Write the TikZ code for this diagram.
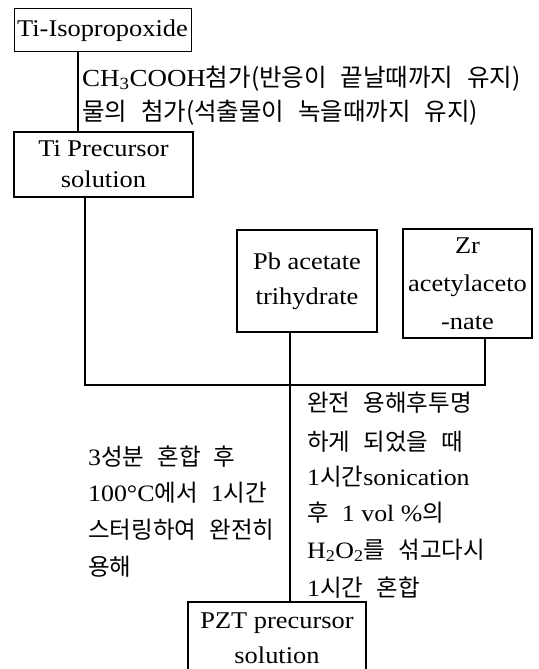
\documentclass[tikz,border=0pt]{standalone}
\usepackage{fontspec}
\setmainfont{Liberation Serif}[FakeStretch=1.1]
\newfontfamily\kr{Noto Sans CJK KR}[WordSpace=2.5]
\newcommand\lt[1]{{\rmfamily #1}}
\tikzset{
  thinbox/.style={draw, line width=1pt, inner sep=0pt, align=center, font=\fontsize{24}{28}\selectfont},
  box/.style={draw, line width=2.4pt, inner sep=0pt, align=center},
  link/.style={line width=2.4pt},
  lbl/.style={anchor=base west, inner sep=0pt, font=\kr\fontsize{23.5}{26}\selectfont},
  toplbl/.style={lbl, font=\kr\fontsize{24.5}{28}\selectfont}
}
\begin{document}
\begin{tikzpicture}[x=1pt,y=-1pt]
\useasboundingbox (0,0) rectangle (538,669);
% boxes
\node[thinbox, minimum width=177pt, minimum height=43pt] (tiiso) at (102.5,30.5) {Ti-Isopropoxide};
\node[box, minimum width=179pt, minimum height=65pt, font=\fontsize{24}{31}\selectfont] (tiprec) at (103.5,164.5) {Ti Precursor\\solution};
\node[box, minimum width=140pt, minimum height=102pt, font=\fontsize{24}{35}\selectfont] (pb) at (307,281) {Pb acetate\\trihydrate};
\node[box, minimum width=129pt, minimum height=109pt, font=\fontsize{24}{38}\selectfont] (zr) at (467.5,283.5) {Zr\\acetylaceto\\-nate};
\node[box, minimum width=178pt, minimum height=72pt, font=\fontsize{24}{35}\selectfont] (pzt) at (277,638) {PZT precursor\\solution};
% connector coordinates
\coordinate (xa) at (78,0);
\coordinate (xb) at (85,0);
\coordinate (xz) at (485,0);
\coordinate (j) at (290,385);
\draw[link] (xa |- tiiso.south) -- (xa |- tiprec.north);
\draw[link] (xb |- tiprec.south) -- (xb |- j) -- (xz |- j) -- (xz |- zr.south);
\draw[link] (j |- pb.south) -- (j) -- (j |- pzt.north);
% labels
\node[toplbl] (t1) at (82,86) {\lt{CH\textsubscript{3}COOH}첨가(반응이 끝날때까지 유지)};
\node[toplbl] (t2) at (82,120) {물의 첨가(석출물이 녹을때까지 유지)};
\node[lbl] (l1) at (88,465) {\lt{3}성분 혼합 후};
\node[lbl] (l2) at (88,501) {\lt{100°C}에서 \lt{1}시간};
\node[lbl] (l3) at (88,538) {스터링하여 완전히};
\node[lbl] (l4) at (88,575) {용해};
\node[lbl] (r1) at (307,411) {완전 용해후투명};
\node[lbl] (r2) at (307,450) {하게 되었을 때};
\node[lbl] (r3) at (307,485) {\lt{1}시간\lt{sonication}};
\node[lbl] (r4) at (307,521) {후 \lt{1 vol \%}의};
\node[lbl] (r5) at (307,558) {\lt{H\textsubscript{2}O\textsubscript{2}}를 섞고다시};
\node[lbl] (r6) at (307,596) {\lt{1}시간 혼합};
\end{tikzpicture}
\end{document}
